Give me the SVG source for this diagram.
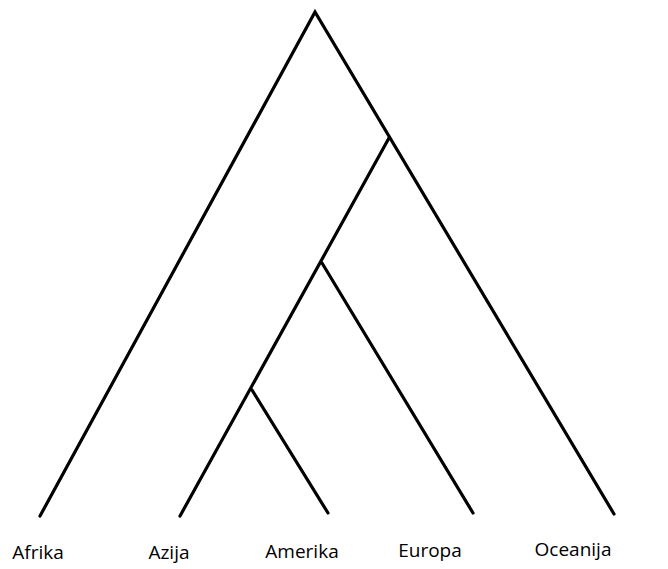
<svg xmlns="http://www.w3.org/2000/svg" width="668" height="569" viewBox="0 0 668 569">
<style>
.br{fill:none;stroke:#000;stroke-width:3.2;stroke-linecap:round;stroke-linejoin:miter}
.lb{font-family:"Open Sans","Liberation Sans",sans-serif;font-size:19px;fill:#000;text-anchor:middle}
</style>
<rect width="668" height="569" fill="#fff"/>
<g id="connectors">
<polyline class="br" points="40,516 315,12 614,514"/>
<polyline class="br" points="180,516 389,138"/>
<line class="br" x1="322" y1="263" x2="473" y2="513"/>
<line class="br" x1="252" y1="390" x2="328" y2="513"/>
</g>
<g id="afrika"><text class="lb" x="38" y="559">Afrika</text></g>
<g id="azija"><text class="lb" x="169" y="559">Azija</text></g>
<g id="amerika"><text class="lb" x="302" y="558">Amerika</text></g>
<g id="europa"><text class="lb" x="430" y="557">Europa</text></g>
<g id="oceanija"><text class="lb" x="573" y="556">Oceanija</text></g>
</svg>
